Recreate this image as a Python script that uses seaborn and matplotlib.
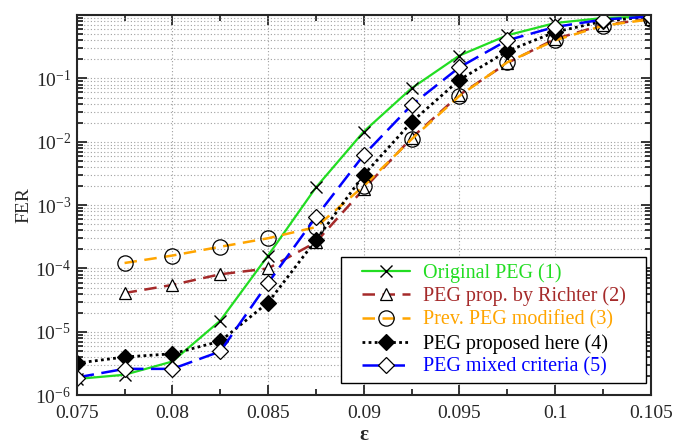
import numpy as np
import pandas as pd
import matplotlib
matplotlib.use("Agg")
import matplotlib.pyplot as plt
import seaborn as sns
from matplotlib.path import Path
from matplotlib.ticker import FixedLocator, LogLocator, NullFormatter, FixedFormatter

eps = [0.075, 0.0775, 0.08, 0.0825, 0.085, 0.0875, 0.09, 0.0925, 0.095, 0.0975, 0.1, 0.1025, 0.105]

fer_original = [1.8e-6, 2.1e-6, 3.4e-6, 1.5e-5, 1.6e-4, 1.9e-3, 1.45e-2, 7.0e-2, 0.23, 0.48, 0.75, 0.9, 0.95]
eps_richter = eps[1:]
fer_richter = [4.1e-5, 5.5e-5, 8.1e-5, 1.0e-4, 2.6e-4, 1.8e-3, 1.15e-2, 5.5e-2, 0.175, 0.42, 0.7, 0.87]
eps_prev = eps[1:]
fer_prev = [1.22e-4, 1.6e-4, 2.2e-4, 3.0e-4, 4.5e-4, 2.0e-3, 1.1e-2, 5.3e-2, 0.18, 0.40, 0.68, 0.86]
fer_proposed = [3.2e-6, 4.0e-6, 4.5e-6, 7.1e-6, 2.9e-5, 2.8e-4, 3.0e-3, 2.05e-2, 9.5e-2, 0.27, 0.54, 0.8, 0.95]
fer_mixed = [1.9e-6, 2.6e-6, 2.6e-6, 4.9e-6, 5.9e-5, 6.5e-4, 6.2e-3, 3.8e-2, 0.15, 0.40, 0.65, 0.85, 0.95]

labels = ["Original PEG (1)", "PEG prop. by Richter (2)", "Prev. PEG modified (3)",
          "PEG proposed here (4)", "PEG mixed criteria (5)"]
colors = ["#22dd22", "#a52a2a", "#ffa500", "black", "blue"]
text_colors = ["#22dd22", "#a52a2a", "#ffa500", "black", "blue"]

xticks = [0.075, 0.08, 0.085, 0.09, 0.095, 0.1, 0.105]
xtick_labels = ["0.075", "0.08", "0.085", "0.09", "0.095", "0.1", "0.105"]
yticks = [1e-6, 1e-5, 1e-4, 1e-3, 1e-2, 1e-1]
ytick_labels = [r"$10^{-6}$", r"$10^{-5}$", r"$10^{-4}$", r"$10^{-3}$", r"$10^{-2}$", r"$10^{-1}$"]

sns.set_style("ticks")
plt.rcParams['font.family'] = ['Liberation Serif', 'DejaVu Serif']
plt.rcParams['mathtext.fontset'] = 'custom'
plt.rcParams['mathtext.rm'] = 'Liberation Serif'
plt.rcParams['mathtext.it'] = 'Liberation Serif:italic'

fig = plt.figure(figsize=(6.73, 4.44), dpi=100)
ax = fig.add_axes([0.114, 0.110, 0.853, 0.856])

series = [
    (eps, fer_original, dict(linestyle="-", marker="x", mfc="none", mec="black", ms=8, lw=1.6, mew=1.0)),
    (eps_richter, fer_richter, dict(linestyle=(0, (5, 3)), marker="^", mfc="white", mec="black", ms=9, lw=1.8, mew=0.9)),
    (eps_prev, fer_prev, dict(linestyle=(0, (5, 3)), marker="o", mfc="none", mec="black", ms=11, lw=1.8, mew=0.9)),
    (eps, fer_proposed, dict(linestyle=(0, (1, 1.2)), marker="D", mfc="black", mec="black", ms=8, lw=2.0, mew=0.9)),
    (eps, fer_mixed, dict(linestyle=(0, (7, 3)), marker="D", mfc="white", mec="black", ms=8, lw=1.8, mew=0.9)),
]

handles = []
for (xs, ys, st), lab, col in zip(series, labels, colors):
    df = pd.DataFrame({"eps": xs, "fer": ys})
    sns.lineplot(data=df, x="eps", y="fer", ax=ax, color=col, estimator=None, sort=False,
                 linestyle=st["linestyle"], lw=st["lw"], marker=st["marker"],
                 markerfacecolor=st["mfc"], markeredgecolor=st["mec"], markersize=st["ms"],
                 markeredgewidth=st["mew"], label=lab)
    handles.append(ax.lines[-1])

ax.set_yscale("log")
ax.set_xlim(0.075, 0.105)
ax.set_ylim(1e-6, 1)

ax.xaxis.set_major_locator(FixedLocator(xticks))
ax.xaxis.set_major_formatter(FixedFormatter(xtick_labels))
ax.xaxis.set_minor_locator(FixedLocator([0.0775, 0.0825, 0.0875, 0.0925, 0.0975, 0.1025]))
ax.yaxis.set_major_locator(FixedLocator(yticks + [1.0]))
ax.yaxis.set_major_formatter(FixedFormatter(ytick_labels + [""]))
ax.yaxis.set_minor_locator(LogLocator(base=10, subs=np.arange(2, 10), numticks=20))
ax.yaxis.set_minor_formatter(NullFormatter())

ax.tick_params(which="both", direction="in", top=True, right=True, labelsize=14, width=1.3)
ax.tick_params(which="major", length=7)
ax.tick_params(which="minor", length=4)
ax.tick_params(axis="x", which="major", pad=7)
ax.tick_params(axis="y", which="major", pad=4)
for s in ax.spines.values():
    s.set_linewidth(1.5)

ax.grid(True, which="major", axis="x", color="#a0a0a0", linestyle=(0, (1, 2)), lw=0.8)
ax.grid(True, which="both", axis="y", color="#a0a0a0", linestyle=(0, (1, 2)), lw=0.8)

ax.set_xlabel("ε", fontsize=15, fontweight="bold", labelpad=2)
ax.set_ylabel("FER", fontsize=14, labelpad=2)

HPAD = 14  # extra horizontal frame padding in pixels


def hpad_box(x0, y0, width, height, mutation_size):
    xa, xb = x0 - HPAD, x0 + width + HPAD
    ya, yb = y0, y0 + height
    return Path([(xa, ya), (xb, ya), (xb, yb), (xa, yb), (xa, ya)],
                [Path.MOVETO, Path.LINETO, Path.LINETO, Path.LINETO, Path.CLOSEPOLY])


leg = ax.legend(handles=handles, labels=labels, loc="lower right", bbox_to_anchor=(0.967, 0.032),
                fontsize=14.5, frameon=True, fancybox=False, framealpha=1, edgecolor="black",
                handlelength=2.4, borderpad=0.3, labelspacing=0.2, handletextpad=0.65,
                borderaxespad=0.0)
frame = leg.get_frame()
frame.set_linewidth(1.0)
frame.set_boxstyle(hpad_box)
for t, c in zip(leg.get_texts(), text_colors):
    t.set_color(c)

fig.savefig("out.png", dpi=100)
